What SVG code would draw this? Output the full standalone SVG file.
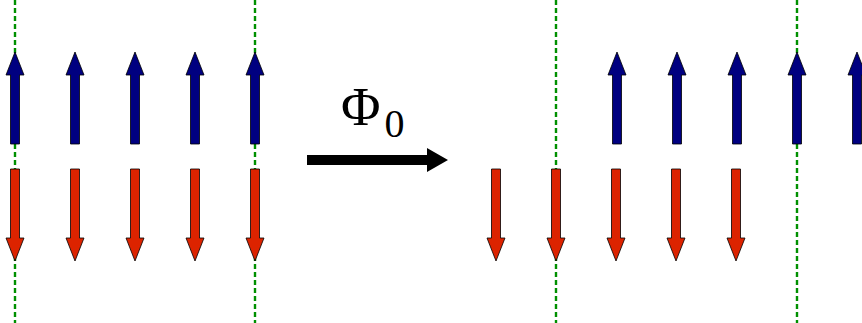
<svg xmlns="http://www.w3.org/2000/svg" xmlns:xlink="http://www.w3.org/1999/xlink" width="862" height="323" viewBox="0 0 862 323">
<style>
.guide{stroke:#009000;stroke-width:2.4;stroke-dasharray:5 3;fill:none}
.up{fill:#000080;stroke:#000;stroke-width:0.8}
.down{fill:#dc2300;stroke:#000;stroke-width:0.8}
.lbl{font-family:"Liberation Serif","Times New Roman",serif;fill:#000}
</style>
<defs>
<polygon id="upArrow" class="up" points="-4.5,144 -4.5,75 -9,75 0,52 9,75 4.5,75 4.5,144"/>
<polygon id="downArrow" class="down" points="-4.5,169 -4.5,238 -9,238 0,261 9,238 4.5,238 4.5,169"/>
</defs>
<g id="guides">
<line class="guide" x1="15" y1="0" x2="15" y2="323"/>
<line class="guide" x1="255" y1="0" x2="255" y2="323"/>
<line class="guide" x1="556" y1="0" x2="556" y2="323"/>
<line class="guide" x1="797" y1="0" x2="797" y2="323"/>
</g>
<g id="left-up">
<use xlink:href="#upArrow" x="15"/>
<use xlink:href="#upArrow" x="75"/>
<use xlink:href="#upArrow" x="135"/>
<use xlink:href="#upArrow" x="195"/>
<use xlink:href="#upArrow" x="255"/>
</g>
<g id="left-down">
<use xlink:href="#downArrow" x="15"/>
<use xlink:href="#downArrow" x="75"/>
<use xlink:href="#downArrow" x="135"/>
<use xlink:href="#downArrow" x="195"/>
<use xlink:href="#downArrow" x="255"/>
</g>
<g id="right-up">
<use xlink:href="#upArrow" x="617"/>
<use xlink:href="#upArrow" x="677"/>
<use xlink:href="#upArrow" x="737"/>
<use xlink:href="#upArrow" x="797"/>
<use xlink:href="#upArrow" x="857"/>
</g>
<g id="right-down">
<use xlink:href="#downArrow" x="496"/>
<use xlink:href="#downArrow" x="556"/>
<use xlink:href="#downArrow" x="616"/>
<use xlink:href="#downArrow" x="676"/>
<use xlink:href="#downArrow" x="736"/>
</g>
<g id="connectors">
<polygon fill="#000" points="307,155 427,155 427,148 448,160 427,172 427,165 307,165"/>
</g>
<g id="label">
<text class="lbl" x="341" y="125" font-size="54">Φ<tspan font-size="40" dx="4" dy="12">0</tspan></text>
</g>
</svg>
